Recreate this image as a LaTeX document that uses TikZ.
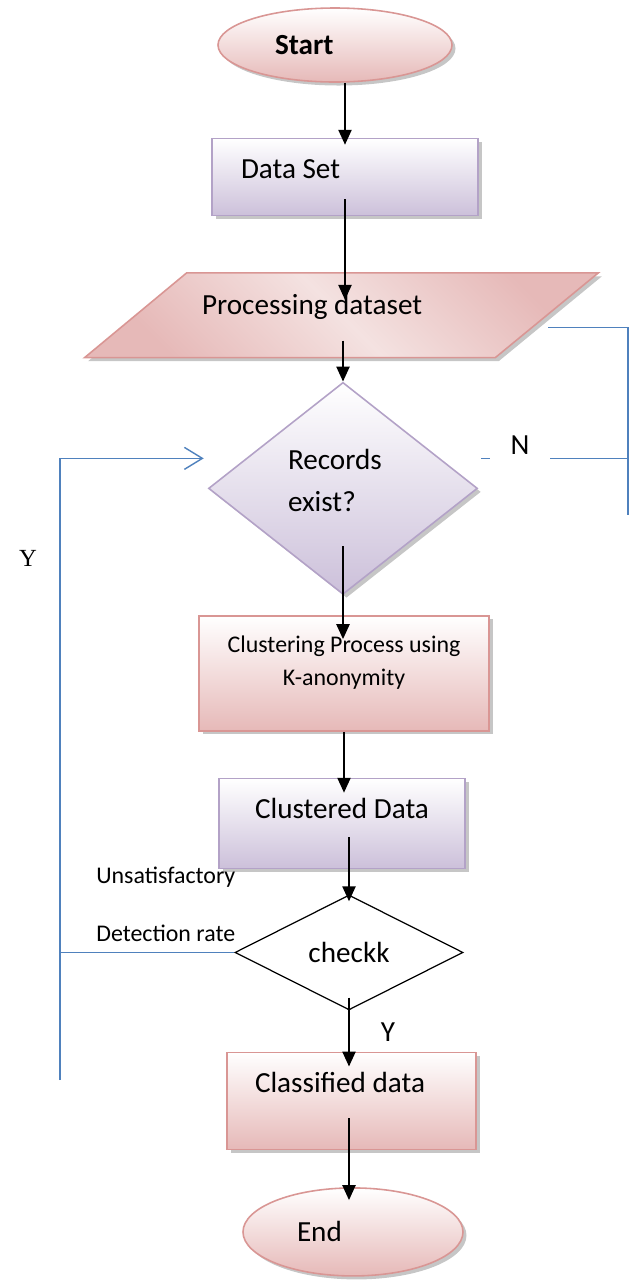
\documentclass[tikz,border=0pt]{standalone}
\usepackage{fontspec}
\setmainfont{Carlito}
\newfontfamily\serifY{Liberation Serif}
\usetikzlibrary{arrows.meta,positioning,calc,shapes.geometric,shadows,backgrounds}

\definecolor{pinkline}{HTML}{D99694}
\definecolor{pinkfill}{HTML}{E6B9B8}
\definecolor{pinklight}{HTML}{F4E2E1}
\definecolor{lilacline}{HTML}{B3A2C7}
\definecolor{lilacfill}{HTML}{CCC0DA}
\definecolor{loopblue}{HTML}{4F81BD}

\begin{document}
\begin{tikzpicture}[
  font=\fontsize{16.6}{24}\selectfont,
  boxshadow/.style={drop shadow={shadow xshift=0.07cm, shadow yshift=-0.07cm, opacity=0.45}},
  pinkshape/.style={draw=pinkline, line width=0.9pt, top color=white, bottom color=pinkfill, boxshadow},
  lilacshape/.style={draw=lilacline, line width=0.9pt, top color=white, bottom color=lilacfill, boxshadow},
  terminal/.style={ellipse, pinkshape, inner sep=0pt, align=flush left},
  pinkbox/.style={rectangle, pinkshape},
  lilacbox/.style={rectangle, lilacshape},
  decision/.style={diamond, inner sep=0pt},
  arrow/.style={-{Triangle[length=0.3cm, width=0.26cm]}, line width=1.3pt},
  loopline/.style={draw=loopblue, line width=0.8pt},
  smalltext/.style={font=\fontsize{13.6}{18.8}\selectfont, inner sep=0pt}
]
\useasboundingbox (0,0) rectangle (12.7,-25.62);

% main flow
\node[terminal, minimum width=4.68cm, minimum height=1.48cm, text width=2.4cm] (start) at (6.7,-0.9) {\textbf{Start}};
\node[lilacbox, below=1.1cm of start, xshift=0.2cm, minimum width=5.32cm, minimum height=1.54cm, text width=4.16cm, inner xsep=0.58cm, align=flush left, text depth=0.32cm] (dataset) {Data Set};
\node[rectangle, below=1.13cm of dataset, xshift=-0.07cm, minimum width=10.26cm, minimum height=1.68cm, text width=5.58cm, inner xsep=2.34cm, align=flush left, text depth=0.44cm] (proc) {Processing dataset};
\node[decision, lilacshape, below=0.48cm of proc, xshift=0.03cm, minimum width=5.38cm, minimum height=4.24cm, text width=2.2cm, align=flush left, text height=0.4cm, text depth=1.16cm] (records) {Records\\exist?};
\node[pinkbox, below=0.4cm of records, xshift=0.02cm, minimum width=5.8cm, minimum height=2.3cm, align=center, font=\fontsize{13.6}{18.8}\selectfont, text height=1.0cm, text depth=0.5cm] (cluster) {Clustering Process using\\K-anonymity};
\node[lilacbox, below=0.92cm of cluster, xshift=-0.04cm, minimum width=4.92cm, minimum height=1.8cm, text depth=0.6cm] (clustered) {Clustered Data};
\node[decision, draw=black, fill=white, line width=0.7pt, below=0.5cm of clustered, xshift=0.14cm, minimum width=4.56cm, minimum height=2.3cm] (check) {checkk};
\node[pinkbox, below=0.82cm of check, xshift=0.05cm, minimum width=4.98cm, minimum height=1.94cm, text width=3.86cm, inner xsep=0.56cm, align=flush left, text depth=0.72cm] (classified) {Classified data};
\node[terminal, below=0.74cm of classified, xshift=0.03cm, minimum width=4.4cm, minimum height=1.76cm, text width=2.24cm] (finish) {End};

% parallelogram behind the processing text
\begin{scope}[on background layer]
  \path[draw=pinkline, line width=0.9pt, top color=pinkfill, bottom color=pinkfill, middle color=pinklight, shading angle=-45, boxshadow]
    ([xshift=2.04cm]proc.north west) -- (proc.north east) -- ([xshift=-2.06cm]proc.south east) -- (proc.south west) -- cycle;
\end{scope}

\draw[arrow, shorten >=-0.14cm] (dataset.north |- start.south) -- (dataset.north);
\draw[arrow, shorten <=-0.34cm, shorten >=-0.54cm] (dataset.south) -- (dataset.south |- proc.north);
\draw[arrow, shorten <=-0.34cm] (records.north |- proc.south) -- (records.north);
\draw[arrow, shorten <=-0.98cm, shorten >=-0.48cm] (records.south) -- (records.south |- cluster.north);
\draw[arrow, shorten >=-0.3cm] (cluster.south) -- (cluster.south |- clustered.north);
\draw[arrow, shorten <=-0.64cm, shorten >=-0.14cm] (check.north |- clustered.south) -- (check.north);
\draw[arrow, shorten <=-0.26cm, shorten >=-0.3cm] (check.south) -- (check.south |- classified.north);
\draw[arrow, shorten <=-0.64cm, shorten >=-0.26cm] (check.south |- classified.south) -- (check.south |- finish.north);

% N branch
\coordinate (nfrom) at ([xshift=-1.0cm, yshift=-0.24cm]proc.east);
\coordinate (nend) at (12.56,-10.3);
\coordinate (njoin) at ([xshift=0.06cm, yshift=0.6cm]records.east);
\draw[loopline] (nfrom) -| (nend);
\draw[loopline] (njoin) -- (njoin -| nend);
\node[fill=white, minimum width=1.2cm, minimum height=0.8cm, inner sep=0pt] (nlabel) at (10.4,-8.9) {N};

% Y loop back
\coordinate (ytip) at ([xshift=-0.08cm, yshift=0.6cm]records.west);
\coordinate (ybot) at (1.2,-21.6);
\coordinate (ytop) at (ybot |- ytip);
\draw[loopline] (check.west) -- (check.west -| ybot);
\draw[loopline] (ybot) -- (ytop);
\draw[loopline, -{Straight Barb[length=0.36cm, width=0.44cm]}] (ytop) -- (ytip);
\node[font=\serifY\fontsize{14}{16}\selectfont] (yloop) at (0.56,-11.16) {Y};
\node[smalltext, anchor=west] (unsat) at (1.92,-17.54) {Unsatisfactory};
\node[smalltext, anchor=west] (detrate) at (1.92,-18.66) {Detection rate};
\node (ycheck) at (7.76,-20.64) {Y};
\end{tikzpicture}
\end{document}
